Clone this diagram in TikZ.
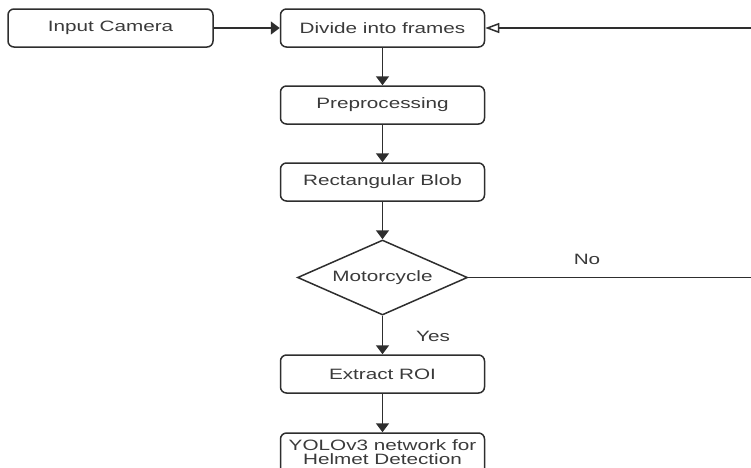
\documentclass[tikz,border=0pt]{standalone}
\usepackage{fontspec}
\setmainfont[FakeStretch=1.38]{Liberation Sans}
\usetikzlibrary{arrows.meta,shapes.geometric}
\definecolor{ln}{HTML}{2E2E2E}
\definecolor{tx}{HTML}{3A3A3A}
\tikzset{
  stepbox/.style={draw=ln,line width=1.5pt,rounded corners=6pt,minimum width=204pt,minimum height=38pt,inner sep=0pt,text=tx,font=\fontsize{15}{16.5}\selectfont,align=center},
  decide/.style={draw=ln,line width=1.5pt,diamond,aspect=2.27,minimum width=170pt,minimum height=75pt,inner sep=0pt,text=tx,font=\fontsize{15}{16.5}\selectfont},
  conn/.style={draw=ln,line width=1.6pt,-{Triangle[length=9pt,width=13pt]}},
  back/.style={draw=ln,line width=1.5pt,-{Triangle[open,length=14pt,width=10pt]}},
  lbl/.style={text=tx,font=\fontsize{15}{16.5}\selectfont,inner sep=0pt}
}
\begin{document}
\begin{tikzpicture}[x=1pt,y=-1pt]
\useasboundingbox (0,0) rectangle (751,467);
\clip (0,0) rectangle (751,467);
\node[stepbox,minimum width=205pt] (cam) at (110.5,28) {Input Camera};
\node[stepbox] (div) at (382.5,28) {Divide into frames};
\node[stepbox] (pre) at (382.5,105) {Preprocessing};
\node[stepbox] (blob) at (382.5,182) {Rectangular Blob};
\node[decide] (moto) at (382.5,277.5) {Motorcycle};
\node[stepbox] (roi) at (382.5,374) {Extract ROI};
\node[stepbox,minimum height=42pt] (yolo) at (382.5,454) {\raisebox{3pt}{\shortstack{YOLOv3 network for\\Helmet Detection}}};
\coordinate (r1) at (760,28);
\coordinate (r2) at (760,277.5);
\draw[conn] (cam) -- (div);
\draw[back] (r1) -- (div.east);
\draw[conn] (div) -- (pre);
\draw[conn] (pre) -- (blob);
\draw[conn] (blob) -- (moto.north);
\draw[conn] (moto.south) -- (roi);
\draw[conn] (roi) -- (yolo);
\draw[draw=ln,line width=1.5pt] (moto.east) -- (r2);
\node[lbl] (no) at (587,259) {No};
\node[lbl] (yes) at (433,336) {Yes};
\end{tikzpicture}
\end{document}
